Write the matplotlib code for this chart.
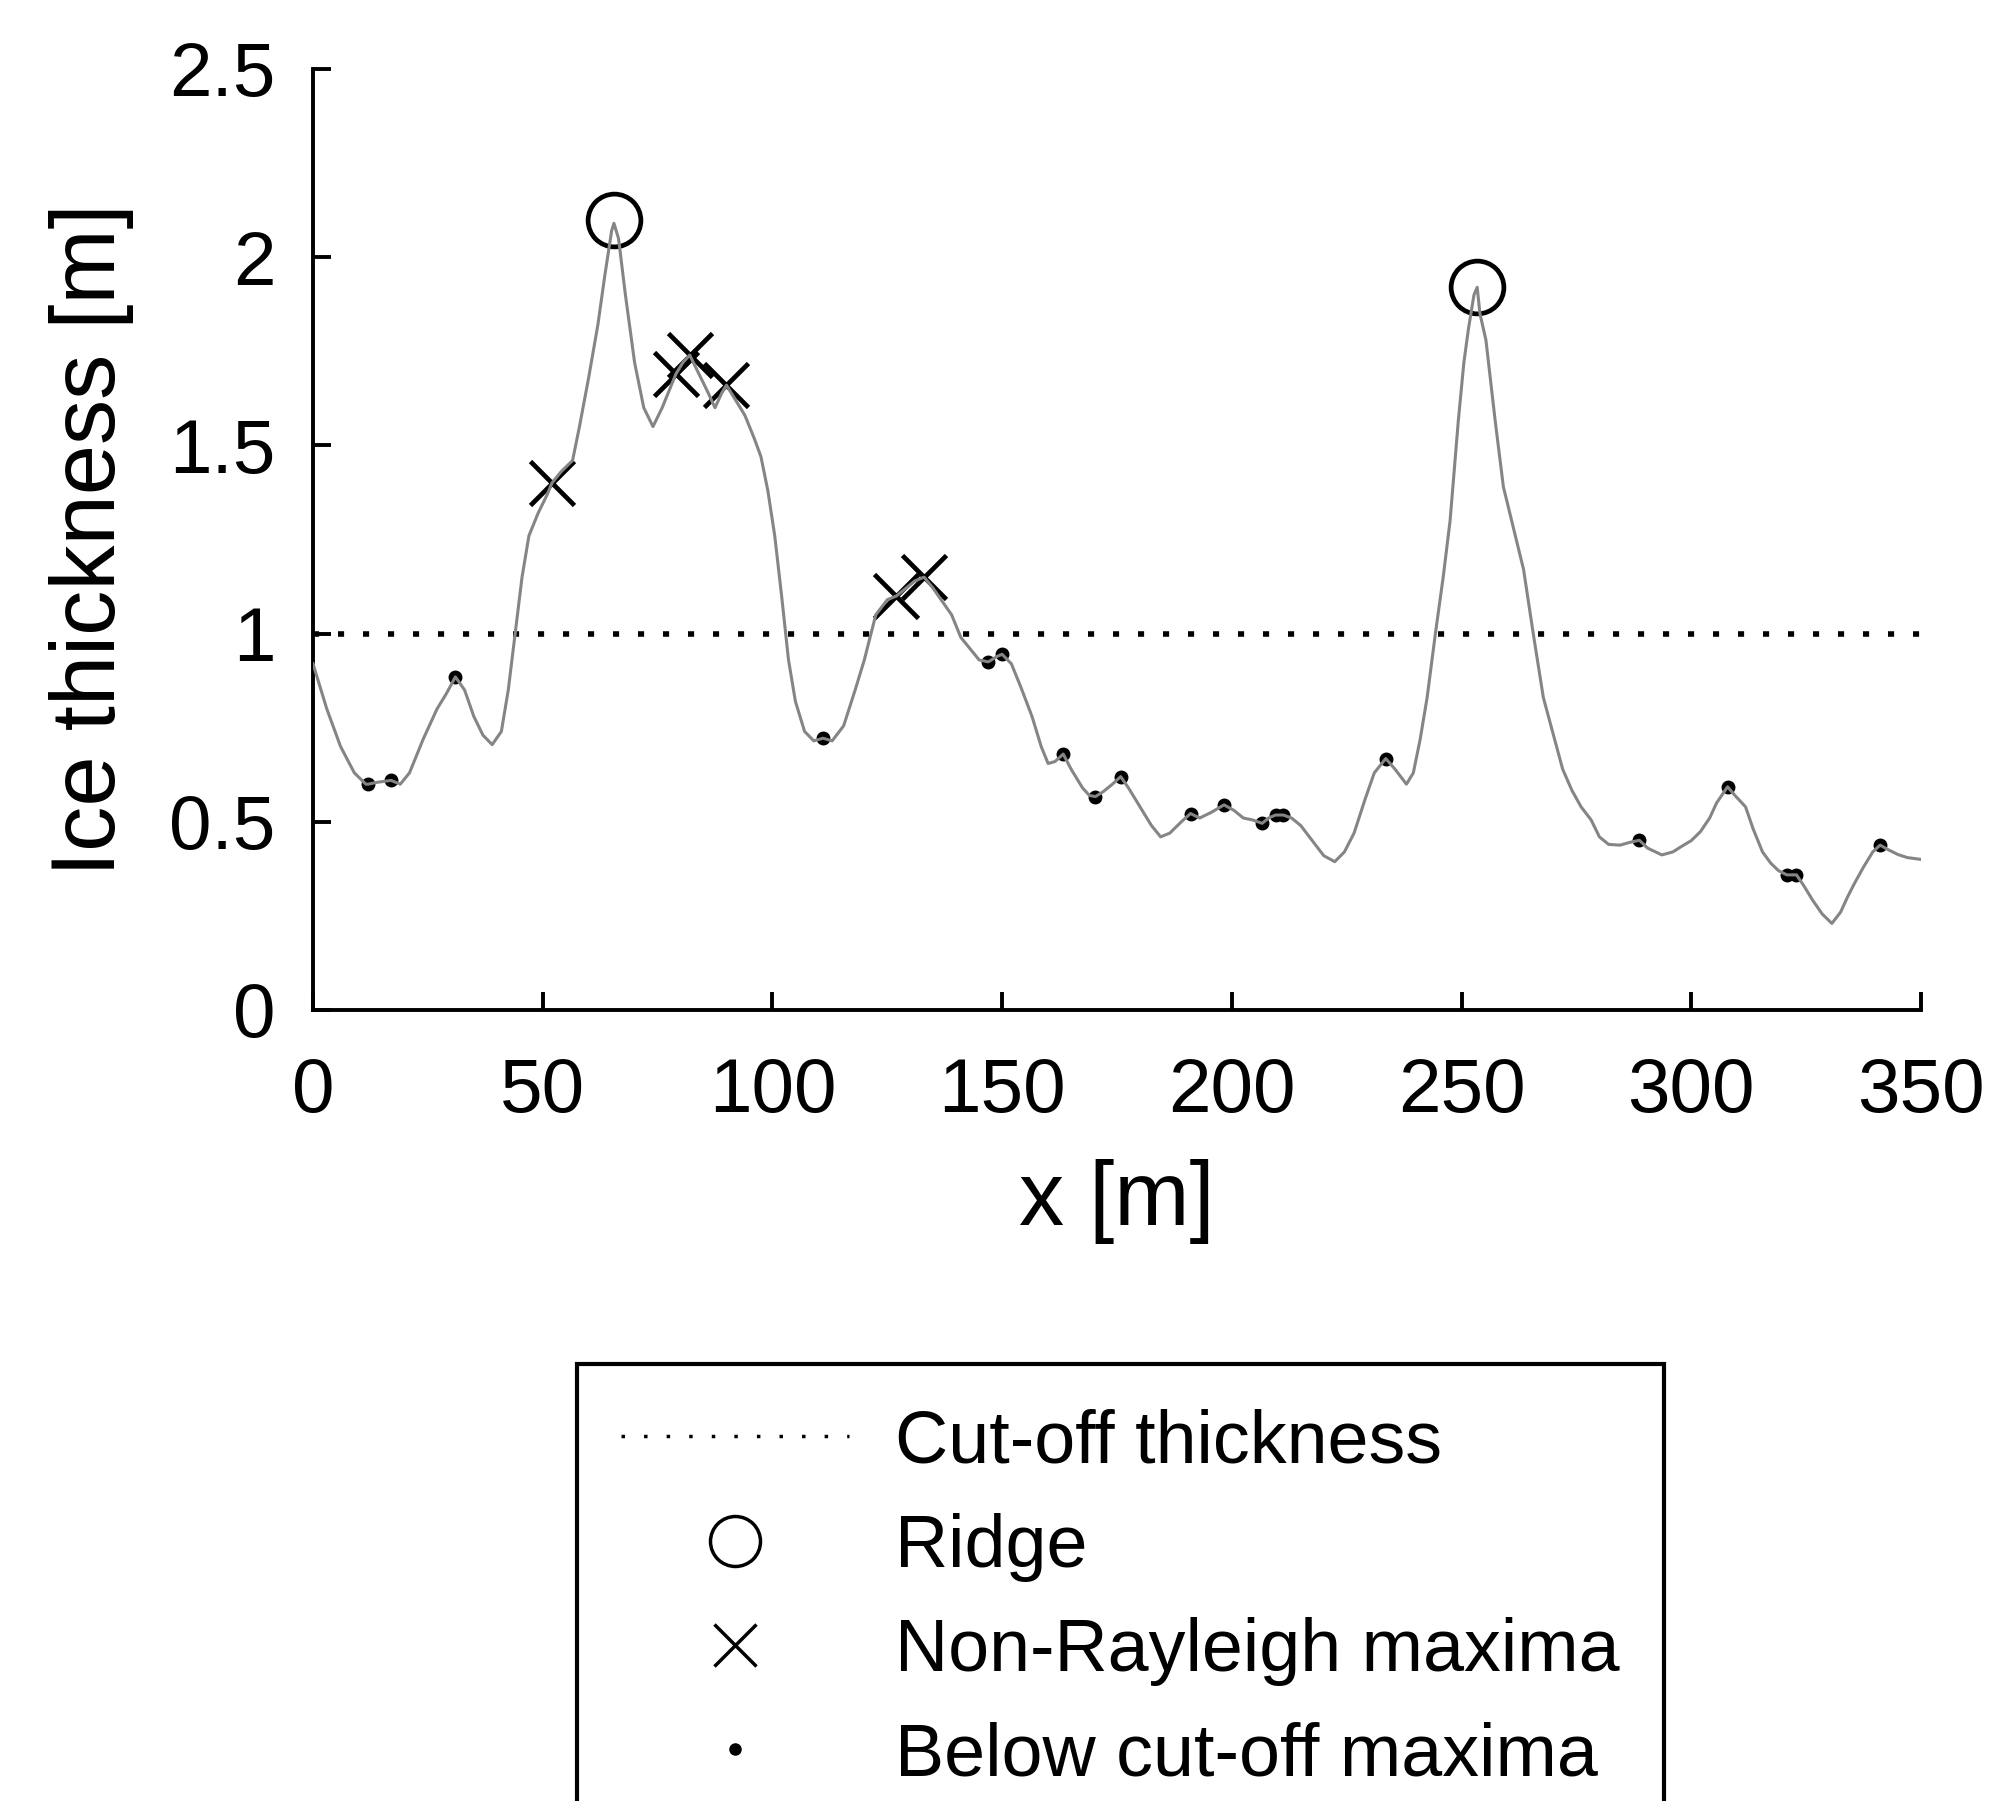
import numpy as np
import matplotlib
matplotlib.use("Agg")
import matplotlib.pyplot as plt
from matplotlib.lines import Line2D

plt.rcParams["font.family"] = ["Liberation Sans", "DejaVu Sans"]

# ice thickness profile
x_m = [0, 3, 6, 9, 11.5, 12, 14, 17, 19, 21, 24, 27, 29, 31, 33, 35, 37, 39, 41, 42.5,
       44, 45.5, 47, 49, 51, 52, 54, 56.5, 58, 60, 62, 63.5, 65, 65.5, 66.5, 68, 70, 72, 74, 76,
       78, 79, 80.5, 82, 84, 86, 87.5, 89, 90, 92, 94, 96, 97.5, 99, 100.5, 102, 103.5, 105, 107, 109,
       111, 113, 115.5, 118, 120, 122.5, 125, 127, 129, 131, 133, 135, 137, 139, 141, 143, 145, 147, 149, 150,
       152, 154, 156.5, 158.5, 160, 161.5, 163.3, 165, 167.5, 169, 170.3, 172, 174, 175.8, 177.5, 180, 182.5, 184.5, 186.5, 189,
       191, 193, 195.5, 198.3, 200.5, 202.5, 204.5, 206.6, 208, 209.5, 211.2, 213, 215, 217.5, 220, 222.4, 224.5, 226.6, 229, 231,
       233.5, 235.5, 238, 239.5, 241, 242.5, 244.3, 246, 247.5, 249.3, 250.5, 251.5, 252.7, 253.4, 254, 255.3, 257.3, 259.1, 260.9, 263.5,
       265.6, 267.8, 269.8, 272, 274, 276, 278.2, 280, 282, 284.5, 286.5, 288.7, 290.5, 293.6, 296, 297.8, 300, 302, 304, 305.5,
       307.9, 309.5, 311.8, 313.5, 315.5, 317.3, 319, 320.8, 322.9, 324.5, 326.4, 328.5, 330.6, 332.5, 334, 335.5, 337.5, 339.5, 341.1, 343,
       345, 347, 350]
thick = [0.92, 0.80, 0.70, 0.63, 0.60, 0.60, 0.605, 0.61, 0.60, 0.63, 0.72, 0.80, 0.84, 0.885, 0.85, 0.78, 0.73, 0.705, 0.74, 0.85,
         1.00, 1.15, 1.26, 1.32, 1.37, 1.40, 1.43, 1.46, 1.55, 1.68, 1.82, 1.95, 2.07, 2.09, 2.05, 1.90, 1.72, 1.60, 1.55, 1.60,
         1.66, 1.69, 1.72, 1.74, 1.69, 1.64, 1.60, 1.64, 1.66, 1.62, 1.58, 1.52, 1.47, 1.38, 1.26, 1.10, 0.93, 0.82, 0.74, 0.715,
         0.722, 0.715, 0.755, 0.85, 0.93, 1.05, 1.09, 1.10, 1.12, 1.14, 1.15, 1.12, 1.085, 1.05, 0.99, 0.96, 0.93, 0.925, 0.94, 0.945,
         0.92, 0.86, 0.78, 0.70, 0.655, 0.66, 0.68, 0.64, 0.59, 0.57, 0.567, 0.58, 0.60, 0.62, 0.59, 0.54, 0.49, 0.46, 0.47, 0.50,
         0.522, 0.51, 0.525, 0.545, 0.53, 0.51, 0.505, 0.496, 0.51, 0.518, 0.518, 0.51, 0.49, 0.45, 0.41, 0.394, 0.42, 0.47, 0.56, 0.63,
         0.668, 0.64, 0.60, 0.63, 0.72, 0.83, 1.00, 1.15, 1.30, 1.567, 1.72, 1.81, 1.90, 1.92, 1.85, 1.78, 1.567, 1.39, 1.30, 1.17,
         1.00, 0.83, 0.74, 0.64, 0.584, 0.54, 0.505, 0.46, 0.44, 0.438, 0.445, 0.451, 0.43, 0.412, 0.42, 0.434, 0.45, 0.474, 0.51, 0.55,
         0.593, 0.57, 0.54, 0.48, 0.42, 0.39, 0.37, 0.359, 0.359, 0.33, 0.292, 0.255, 0.23, 0.26, 0.30, 0.336, 0.38, 0.42, 0.438, 0.425,
         0.413, 0.405, 0.40]

cutoff = 1.0

ridge_x = [65.5, 253.4]
ridge_y = [2.10, 1.92]

nonray_x = [52, 79, 82, 90, 127, 133]
nonray_y = [1.40, 1.69, 1.74, 1.66, 1.10, 1.15]

below_x = [12, 17, 31, 111, 147, 150, 163.3, 170.3, 175.8, 191, 198.3, 206.6, 209.5, 211.2,
           233.5, 288.7, 307.9, 320.8, 322.9, 341.1]
below_y = [0.60, 0.61, 0.885, 0.722, 0.925, 0.945, 0.68, 0.567, 0.62, 0.522, 0.545, 0.496, 0.518, 0.518,
           0.668, 0.451, 0.593, 0.359, 0.359, 0.438]

fig = plt.figure(figsize=(19.9, 18.01), dpi=100)
ax = fig.add_axes([313 / 1990, 791 / 1801, 1608 / 1990, 941 / 1801])

dots = (0, (1.1, 3.4))
ax.plot([0, 350], [cutoff, cutoff], color="k", lw=4, ls=dots, zorder=1)
ax.plot(below_x, below_y, ls="none", marker="o", ms=9, color="k", zorder=2)
ax.plot(ridge_x, ridge_y, ls="none", marker="o", ms=38, mfc="none", mec="k", mew=3.4, zorder=2)
ax.plot(nonray_x, nonray_y, ls="none", marker="x", ms=32, mec="k", mew=3.4, zorder=2)
ax.plot(x_m, thick, color="#858585", lw=2.2, zorder=3)

ax.set_xlim(0, 350)
ax.set_ylim(0, 2.5)
ax.set_xticks(np.arange(0, 351, 50))
ax.set_yticks([0, 0.5, 1, 1.5, 2, 2.5])
ax.set_yticklabels(["0", "0.5", "1", "1.5", "2", "2.5"])
ax.spines["top"].set_visible(False)
ax.spines["right"].set_visible(False)
for s in ["left", "bottom"]:
    ax.spines[s].set_linewidth(2.8)
ax.tick_params(direction="in", length=13, width=2.8, labelsize=55)
ax.tick_params(axis="x", pad=34)
ax.tick_params(axis="y", pad=27)
ax.set_xlabel("x [m]", fontsize=65, labelpad=22)
ax.set_ylabel("Ice thickness [m]", fontsize=65, labelpad=25)

handles = [
    Line2D([], [], color="k", lw=2.5, ls=(0, (1, 5.5))),
    Line2D([], [], ls="none", marker="o", ms=36, mfc="none", mec="k", mew=2.5),
    Line2D([], [], ls="none", marker="x", ms=30, mec="k", mew=2.5),
    Line2D([], [], ls="none", marker="o", ms=8, color="k"),
]
labels = ["Cut-off thickness", "Ridge", "Non-Rayleigh maxima", "Below cut-off maxima"]
leg = fig.legend(handles, labels, loc="upper left", bbox_to_anchor=(577 / 1990, 1 - 1364 / 1801),
                 bbox_transform=fig.transFigure, borderaxespad=0, fontsize=53,
                 handlelength=3.1, handletextpad=0.62, borderpad=0.6, labelspacing=0.48,
                 frameon=True, fancybox=False, edgecolor="k", framealpha=1)
leg.get_frame().set_linewidth(3)

fig.savefig("out.png", dpi=100)
